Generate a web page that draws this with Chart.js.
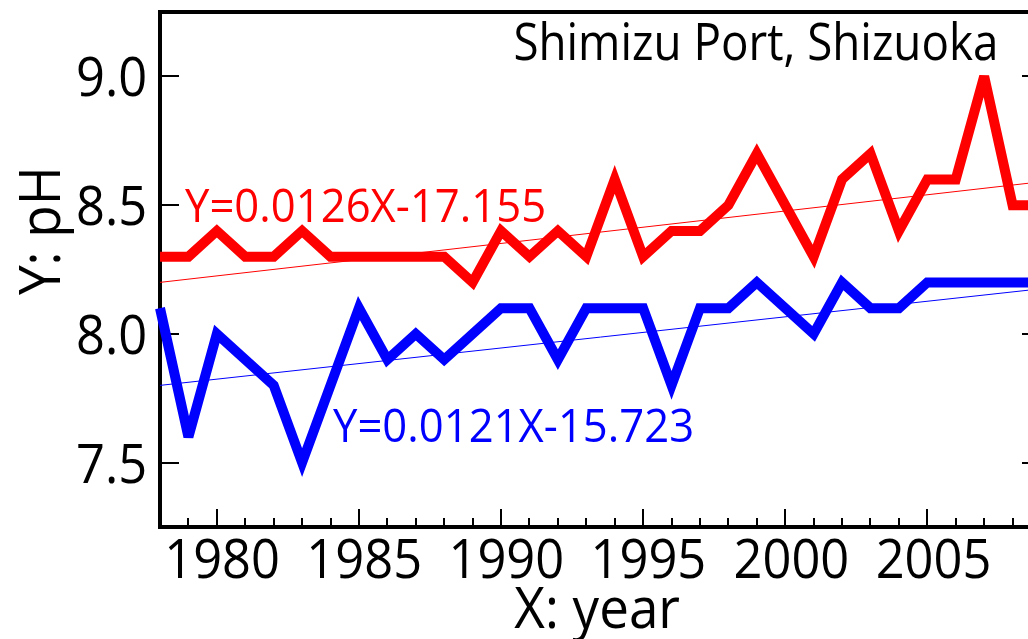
<!DOCTYPE html>
<html>
<head>
<meta charset="utf-8">
<title>Shimizu Port, Shizuoka — pH</title>
<script src="https://cdn.jsdelivr.net/npm/chart.js@4/dist/chart.umd.min.js"></script>
<style>
  html, body { margin: 0; padding: 0; background: #ffffff; overflow: hidden; }
  #wrap { width: 1028px; height: 639px; overflow: hidden; position: relative; }
  canvas { display: block; }
</style>
</head>
<body>
<div id="wrap"><canvas id="chart" width="1060" height="639"></canvas></div>
<script>
// Annual pH readings, Shimizu Port (Shizuoka)
const years   = [1978, 1979, 1980, 1981, 1982, 1983, 1984, 1985, 1986, 1987, 1988,
                 1989, 1990, 1991, 1992, 1993, 1994, 1995, 1996, 1997, 1998, 1999,
                 2000, 2001, 2002, 2003, 2004, 2005, 2006, 2007, 2008, 2009];
const redPH   = [8.3, 8.3, 8.4, 8.3, 8.3, 8.4, 8.3, 8.3, 8.3, 8.3, 8.3,
                 8.2, 8.4, 8.3, 8.4, 8.3, 8.6, 8.3, 8.4, 8.4, 8.5, 8.7,
                 8.5, 8.3, 8.6, 8.7, 8.4, 8.6, 8.6, 9.0, 8.5, 8.5];
const bluePH  = [8.1, 7.6, 8.0, 7.9, 7.8, 7.5, 7.8, 8.1, 7.9, 8.0, 7.9,
                 8.0, 8.1, 8.1, 7.9, 8.1, 8.1, 8.1, 7.8, 8.1, 8.1, 8.2,
                 8.1, 8.0, 8.2, 8.1, 8.1, 8.2, 8.2, 8.2, 8.2, 8.2];

// Linear trends: slope per year and fitted value at the first year
const trendSlopes  = [0.0126, 0.0121];
const trendAtStart = [8.2, 7.8];
const trendLabels  = ['Y=0.0126X-17.155', 'Y=0.0121X-15.723'];

// Axis ticks
const yTickValues = [7.5, 8.0, 8.5, 9.0];
const yTickLabels = ['7.5', '8.0', '8.5', '9.0'];
const xTickValues = [1980, 1985, 1990, 1995, 2000, 2005];
const xTickLabels = ['1980', '1985', '1990', '1995', '2000', '2005'];

const titleText  = 'Shimizu Port, Shizuoka';
const xTitleText = 'X: year';
const yTitleText = 'Y: pH';

const FONT = '"Open Sans", "Noto Sans", "DejaVu Sans", sans-serif';

const toPoints = (vals) => years.map((yr, i) => ({ x: yr, y: vals[i] }));
const trendPoints = (k) => {
  const x0 = years[0], x1 = years[years.length - 1];
  return [
    { x: x0, y: trendAtStart[k] },
    { x: x1, y: trendAtStart[k] + trendSlopes[k] * (x1 - x0) }
  ];
};

// Draws text with a horizontal squeeze, positioned by its ink box
function drawText(ctx, text, x, y, o) {
  ctx.save();
  ctx.font = `${o.size}px ${FONT}`;
  ctx.fillStyle = o.color || '#000';
  ctx.textAlign = 'left';
  ctx.textBaseline = 'alphabetic';
  const m = ctx.measureText(text);
  const inkL = -m.actualBoundingBoxLeft;
  const inkR = m.actualBoundingBoxRight;
  const sx = o.sx || 1;
  const w = (inkR - inkL) * sx;
  const shift = o.align === 'right' ? -w : (o.align === 'center' ? -w / 2 : 0);
  ctx.translate(x, y);
  if (o.rotate) ctx.rotate(o.rotate);
  ctx.translate(shift, 0);
  ctx.scale(sx, 1);
  ctx.fillText(text, -inkL, 0);
  ctx.restore();
}

const framePlugin = {
  id: 'frame',
  beforeDatasetsDraw(chart) {
    const { ctx, chartArea: a, scales } = chart;
    ctx.save();
    ctx.strokeStyle = '#000';
    ctx.lineCap = 'butt';
    // ticks (inward)
    ctx.lineWidth = 2;
    ctx.beginPath();
    for (const v of yTickValues) {
      const py = Math.round(scales.y.getPixelForValue(v));
      ctx.moveTo(a.left, py); ctx.lineTo(a.left + 19, py);
      ctx.moveTo(a.right, py); ctx.lineTo(a.right - 19, py);
    }
    for (let yr = scales.x.min + 1; yr < scales.x.max; yr++) {
      const px = Math.round(scales.x.getPixelForValue(yr));
      const len = yr % 5 === 0 ? 18 : 9;
      ctx.moveTo(px, a.bottom); ctx.lineTo(px, a.bottom - len);
    }
    ctx.stroke();
    // box
    ctx.lineWidth = 4;
    ctx.beginPath();
    ctx.moveTo(a.left, a.top); ctx.lineTo(a.right, a.top);
    ctx.moveTo(a.left, a.top - 2); ctx.lineTo(a.left, a.bottom + 2);
    ctx.moveTo(a.left - 2, a.bottom); ctx.lineTo(a.right, a.bottom);
    ctx.moveTo(a.right, a.top); ctx.lineTo(a.right, a.bottom);
    ctx.stroke();
    ctx.restore();
    // sharp corners fall back to bevel beyond this ratio
    ctx.miterLimit = 4;
  },
  afterDraw(chart) {
    const { ctx, scales } = chart;
    // y tick labels
    yTickValues.forEach((v, i) => {
      const py = scales.y.getPixelForValue(v);
      drawText(ctx, yTickLabels[i], 145, py + 20, { size: 55, sx: 0.92, align: 'right' });
    });
    // x tick labels
    xTickValues.forEach((v, i) => {
      const px = scales.x.getPixelForValue(v);
      drawText(ctx, xTickLabels[i], px + 6, 578, { size: 55, sx: 0.92, align: 'center' });
    });
    // axis titles
    drawText(ctx, xTitleText, 597, 628, { size: 57, sx: 0.93, align: 'center' });
    drawText(ctx, yTitleText, 60, 233, { size: 57, sx: 0.93, align: 'center', rotate: -Math.PI / 2 });
    // station name
    drawText(ctx, titleText, 995, 60, { size: 52, sx: 0.88, align: 'right' });
    // trend equations
    drawText(ctx, trendLabels[0], 185, 222, { size: 45, sx: 0.97, align: 'left', color: '#ff0000' });
    drawText(ctx, trendLabels[1], 333, 442, { size: 45, sx: 0.97, align: 'left', color: '#0000ff' });
  }
};

new Chart(document.getElementById('chart'), {
  type: 'line',
  data: {
    datasets: [
      { data: trendPoints(0), borderColor: '#ff0000', borderWidth: 1, pointRadius: 0, order: 3 },
      { data: trendPoints(1), borderColor: '#0000ff', borderWidth: 1, pointRadius: 0, order: 4 },
      { data: toPoints(redPH), borderColor: '#ff0000', borderWidth: 10, pointRadius: 0,
        borderJoinStyle: 'miter', order: 1 },
      { data: toPoints(bluePH), borderColor: '#0000ff', borderWidth: 10, pointRadius: 0,
        borderJoinStyle: 'miter', order: 2 }
    ]
  },
  options: {
    responsive: false,
    animation: false,
    devicePixelRatio: 1,
    clip: false,
    layout: { padding: { left: 160, right: 19, top: 12, bottom: 112 } },
    plugins: { legend: { display: false }, tooltip: { enabled: false } },
    elements: { line: { tension: 0, fill: false } },
    scales: {
      x: { type: 'linear', min: 1978, max: 2009, display: false },
      y: { type: 'linear', min: 7.25, max: 9.25, display: false }
    }
  },
  plugins: [framePlugin]
});
</script>
</body>
</html>
